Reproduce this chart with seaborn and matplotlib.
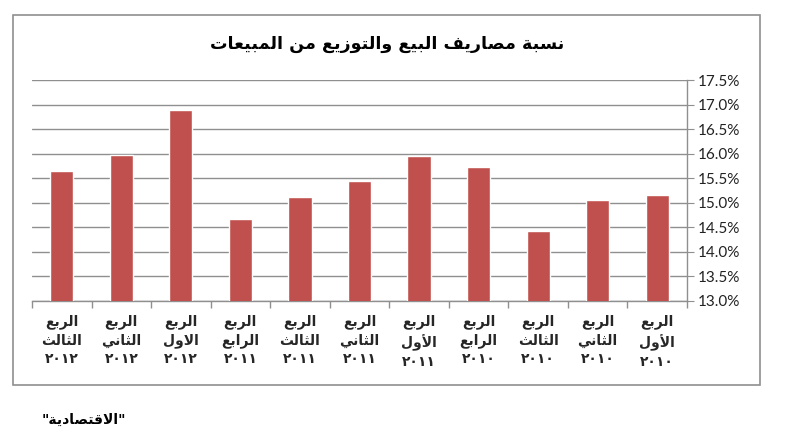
import matplotlib
matplotlib.use('Agg')
import matplotlib.pyplot as plt
from matplotlib.patches import Rectangle
from matplotlib.ticker import FuncFormatter, MultipleLocator, FixedLocator
import seaborn as sns
import pandas as pd

# data, left to right as in the picture (newest quarter on the left)
quarters = ['الربع الثالث', 'الربع الثاني', 'الربع الاول', 'الربع الرابع',
            'الربع الثالث', 'الربع الثاني', 'الربع الأول', 'الربع الرابع',
            'الربع الثالث', 'الربع الثاني', 'الربع الأول']
years = ['٢٠١٢', '٢٠١٢', '٢٠١٢', '٢٠١١', '٢٠١١', '٢٠١١', '٢٠١١',
         '٢٠١٠', '٢٠١٠', '٢٠١٠', '٢٠١٠']
values = [15.64, 15.97, 16.89, 14.67, 15.12, 15.45, 15.96, 15.72, 14.43, 15.06, 15.16]

title = 'نسبة مصاريف البيع والتوزيع من المبيعات'
source = '"الاقتصادية"'

# matplotlib has no arabic shaping, so map letters to presentation forms by hand
# char -> (isolated form codepoint, number of forms)
AR = {
    '\u0621': (0xFE80, 1), '\u0622': (0xFE81, 2), '\u0623': (0xFE83, 2),
    '\u0624': (0xFE85, 2), '\u0625': (0xFE87, 2), '\u0626': (0xFE89, 4),
    '\u0627': (0xFE8D, 2), '\u0628': (0xFE8F, 4), '\u0629': (0xFE93, 2),
    '\u062A': (0xFE95, 4), '\u062B': (0xFE99, 4), '\u062C': (0xFE9D, 4),
    '\u062D': (0xFEA1, 4), '\u062E': (0xFEA5, 4), '\u062F': (0xFEA9, 2),
    '\u0630': (0xFEAB, 2), '\u0631': (0xFEAD, 2), '\u0632': (0xFEAF, 2),
    '\u0633': (0xFEB1, 4), '\u0634': (0xFEB5, 4), '\u0635': (0xFEB9, 4),
    '\u0636': (0xFEBD, 4), '\u0637': (0xFEC1, 4), '\u0638': (0xFEC5, 4),
    '\u0639': (0xFEC9, 4), '\u063A': (0xFECD, 4), '\u0641': (0xFED1, 4),
    '\u0642': (0xFED5, 4), '\u0643': (0xFED9, 4), '\u0644': (0xFEDD, 4),
    '\u0645': (0xFEE1, 4), '\u0646': (0xFEE5, 4), '\u0647': (0xFEE9, 4),
    '\u0648': (0xFEED, 2), '\u0649': (0xFEEF, 2), '\u064A': (0xFEF1, 4),
}
LAM_ALEF = {'\u0622': 0xFEF5, '\u0623': 0xFEF7, '\u0625': 0xFEF9, '\u0627': 0xFEFB}


def shape(text):
    items = []
    i = 0
    while i < len(text):
        c = text[i]
        if c == '\u0644' and i + 1 < len(text) and text[i + 1] in LAM_ALEF:
            items.append((LAM_ALEF[text[i + 1]], 2))
            i += 2
            continue
        items.append(AR.get(c, c))
        i += 1
    out = []
    for k, it in enumerate(items):
        if isinstance(it, str):
            out.append(it)
            continue
        start, n = it
        prev = items[k - 1] if k > 0 else None
        nxt = items[k + 1] if k + 1 < len(items) else None
        join_prev = n >= 2 and isinstance(prev, tuple) and prev[1] == 4
        join_next = n == 4 and isinstance(nxt, tuple) and nxt[1] >= 2
        if join_prev and join_next:
            out.append(chr(start + 3))
        elif join_prev:
            out.append(chr(start + 1))
        elif join_next:
            out.append(chr(start + 2))
        else:
            out.append(chr(start))
    # visual order is right to left
    return ''.join(out)[::-1]


df = pd.DataFrame({'cat': [f'{q} {y}' for q, y in zip(quarters, years)], 'value': values})

sns.set_style('white')
plt.rcParams['font.family'] = ['DejaVu Sans']

fig = plt.figure(figsize=(7.87, 4.37), dpi=100)
ax = fig.add_axes([32 / 787, 1 - 300.7 / 437, (687 - 32) / 787, (300.7 - 80.2) / 437])

sns.barplot(data=df, x='cat', y='value', color='#C0504D', saturation=1, width=0.39, ax=ax, zorder=3)

ax.set_ylim(13.0, 17.5)
ax.set_xlim(-0.5, len(values) - 0.5)
ax.yaxis.set_major_locator(MultipleLocator(0.5))
ax.yaxis.set_major_formatter(FuncFormatter(lambda v, p: f'{v:.1f}%'))
ax.yaxis.tick_right()
ax.grid(axis='y', color='#8F8F8F', linewidth=1.0, zorder=0)
ax.set_axisbelow(True)
for s in ['top', 'left']:
    ax.spines[s].set_visible(False)
for s in ['right', 'bottom']:
    ax.spines[s].set_color('#8F8F8F')
    ax.spines[s].set_linewidth(1.0)
ax.tick_params(axis='y', which='major', right=True, length=5, color='#8F8F8F',
               labelsize=11, labelcolor='#222222', pad=3)
for t in ax.get_yticklabels():
    t.set_family(['Lato', 'DejaVu Sans'])

labels = ['\n'.join(shape(w) for w in q.split(' ')) + '\n' + y for q, y in zip(quarters, years)]
ax.set_xticks(range(len(values)))
ax.set_xticklabels(labels, fontweight='bold', fontsize=10, linespacing=1.38, multialignment='center')
ax.tick_params(axis='x', which='major', length=0, pad=10)
ax.xaxis.set_minor_locator(FixedLocator([i - 0.5 for i in range(len(values) + 1)]))
ax.tick_params(axis='x', which='minor', bottom=True, length=5, color='#8F8F8F', width=1)
ax.set_xlabel('')
ax.set_ylabel('')

fig.text(387 / 787, 1 - 44 / 437, shape(title), ha='center', va='center',
         fontsize=12.6, fontweight='bold', color='black')

fig.patches.append(Rectangle((13 / 787, 1 - 385 / 437), (760 - 13) / 787, (385 - 15) / 437,
                             transform=fig.transFigure, fill=False, edgecolor='#8F8F8F', linewidth=1.2))

fig.text(42 / 787, 1 - 420 / 437, shape(source), ha='left', va='center',
         fontsize=10, fontweight='bold', color='black')

fig.savefig('out.png', dpi=100)
